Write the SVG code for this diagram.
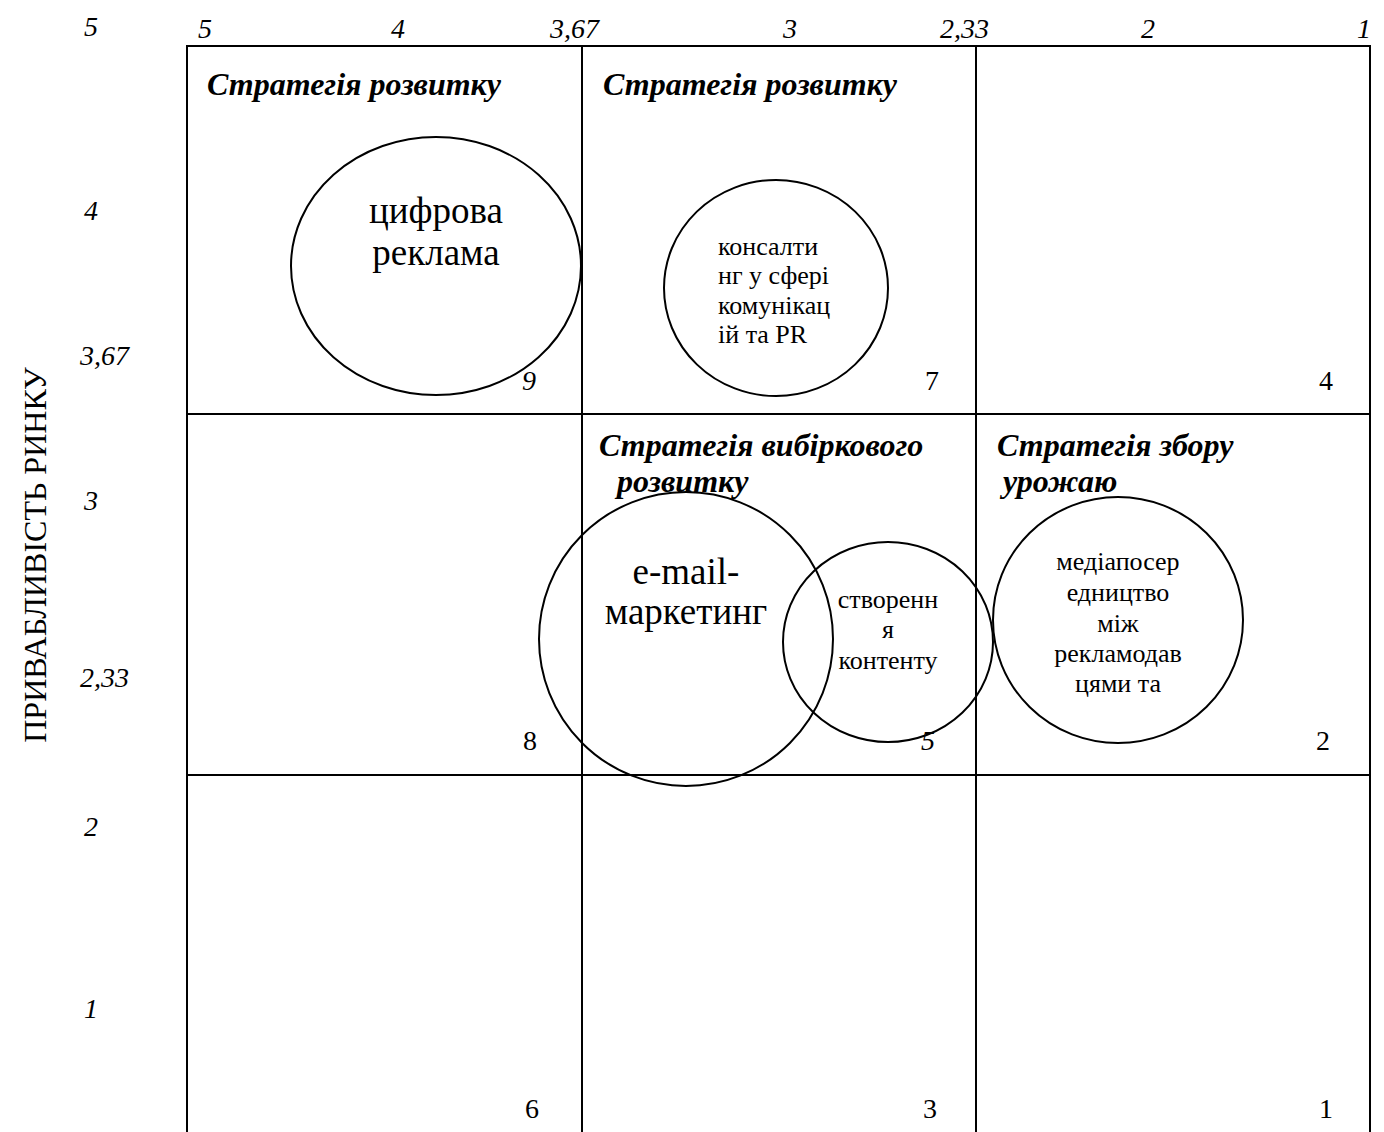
<svg xmlns="http://www.w3.org/2000/svg" width="1384" height="1132" viewBox="0 0 1384 1132">
<style>
text{font-family:"Liberation Serif","Times New Roman",serif;fill:#000}
.ax{font-size:28px;font-style:italic}
.num{font-size:28px}
.numi{font-size:28px;font-style:italic}
.ttl{font-size:32px;font-style:italic;font-weight:bold}
.big{font-size:37px;text-anchor:middle}
.sm{font-size:26px}
.smc{font-size:26px;text-anchor:middle}
.ylab{font-size:32px;text-anchor:middle}
.grid{stroke:#000;stroke-width:2;fill:none}
.c{stroke:#000;stroke-width:2;fill:none}
</style>
<rect width="1384" height="1132" fill="#fff"/>
<g id="axes">
<text class="ax" x="84" y="36">5</text>
<text class="ax" x="198" y="38">5</text>
<text class="ax" x="391" y="38">4</text>
<text class="ax" x="550" y="38">3,67</text>
<text class="ax" x="783" y="38">3</text>
<text class="ax" x="940" y="38">2,33</text>
<text class="ax" x="1141" y="38">2</text>
<text class="ax" x="1357" y="38">1</text>
<text class="ax" x="84" y="220">4</text>
<text class="ax" x="80" y="365">3,67</text>
<text class="ax" x="84" y="510">3</text>
<text class="ax" x="80" y="687">2,33</text>
<text class="ax" x="84" y="836">2</text>
<text class="ax" x="84" y="1018">1</text>
<text class="ylab" transform="translate(46,555) rotate(-90)">ПРИВАБЛИВІСТЬ РИНКУ</text>
</g>
<g id="connectors">
<polyline class="grid" points="187,1132 187,46 1370,46 1370,1132"/>
<line class="grid" x1="582" y1="46" x2="582" y2="1132"/>
<line class="grid" x1="976" y1="46" x2="976" y2="1132"/>
<line class="grid" x1="187" y1="414" x2="1370" y2="414"/>
<line class="grid" x1="187" y1="775" x2="1370" y2="775"/>
</g>
<g id="cell9">
<text class="ttl" x="207" y="95">Стратегія розвитку</text>
<text class="numi" x="522" y="390">9</text>
</g>
<g id="cell7">
<text class="ttl" x="603" y="95">Стратегія розвитку</text>
<text class="num" x="925" y="390">7</text>
</g>
<g id="cell4"><text class="num" x="1319" y="390">4</text></g>
<g id="cell8"><text class="num" x="523" y="750">8</text></g>
<g id="cell5">
<text class="ttl" x="599" y="456">Стратегія вибіркового</text>
<text class="ttl" x="617" y="492">розвитку</text>
<text class="numi" x="921" y="750">5</text>
</g>
<g id="cell2">
<text class="ttl" x="997" y="456">Стратегія збору</text>
<text class="ttl" x="1003" y="492">урожаю</text>
<text class="num" x="1316" y="750">2</text>
</g>
<g id="cell6"><text class="num" x="525" y="1118">6</text></g>
<g id="cell3"><text class="num" x="923" y="1118">3</text></g>
<g id="cell1"><text class="num" x="1319" y="1118">1</text></g>
<g id="n-digital">
<ellipse class="c" cx="436" cy="266" rx="145" ry="129"/>
<text class="big" x="436" y="223">цифрова</text>
<text class="big" x="436" y="265">реклама</text>
</g>
<g id="n-consulting">
<ellipse class="c" cx="776" cy="288" rx="112" ry="108"/>
<text class="sm" x="718" y="255">консалти</text>
<text class="sm" x="718" y="284">нг у сфері</text>
<text class="sm" x="718" y="314">комунікац</text>
<text class="sm" x="718" y="343">ій та PR</text>
</g>
<g id="n-email">
<circle class="c" cx="686" cy="639" r="147"/>
<text class="big" x="686" y="584">e-mail-</text>
<text class="big" x="686" y="624">маркетинг</text>
</g>
<g id="n-content">
<ellipse class="c" cx="888" cy="642" rx="105" ry="100"/>
<text class="smc" x="888" y="608">створенн</text>
<text class="smc" x="888" y="638">я</text>
<text class="smc" x="888" y="669">контенту</text>
</g>
<g id="n-media">
<ellipse class="c" cx="1118" cy="620" rx="125" ry="123"/>
<text class="smc" x="1118" y="570">медіапосер</text>
<text class="smc" x="1118" y="601">едництво</text>
<text class="smc" x="1118" y="632">між</text>
<text class="smc" x="1118" y="662">рекламодав</text>
<text class="smc" x="1118" y="692">цями та</text>
</g>
</svg>
